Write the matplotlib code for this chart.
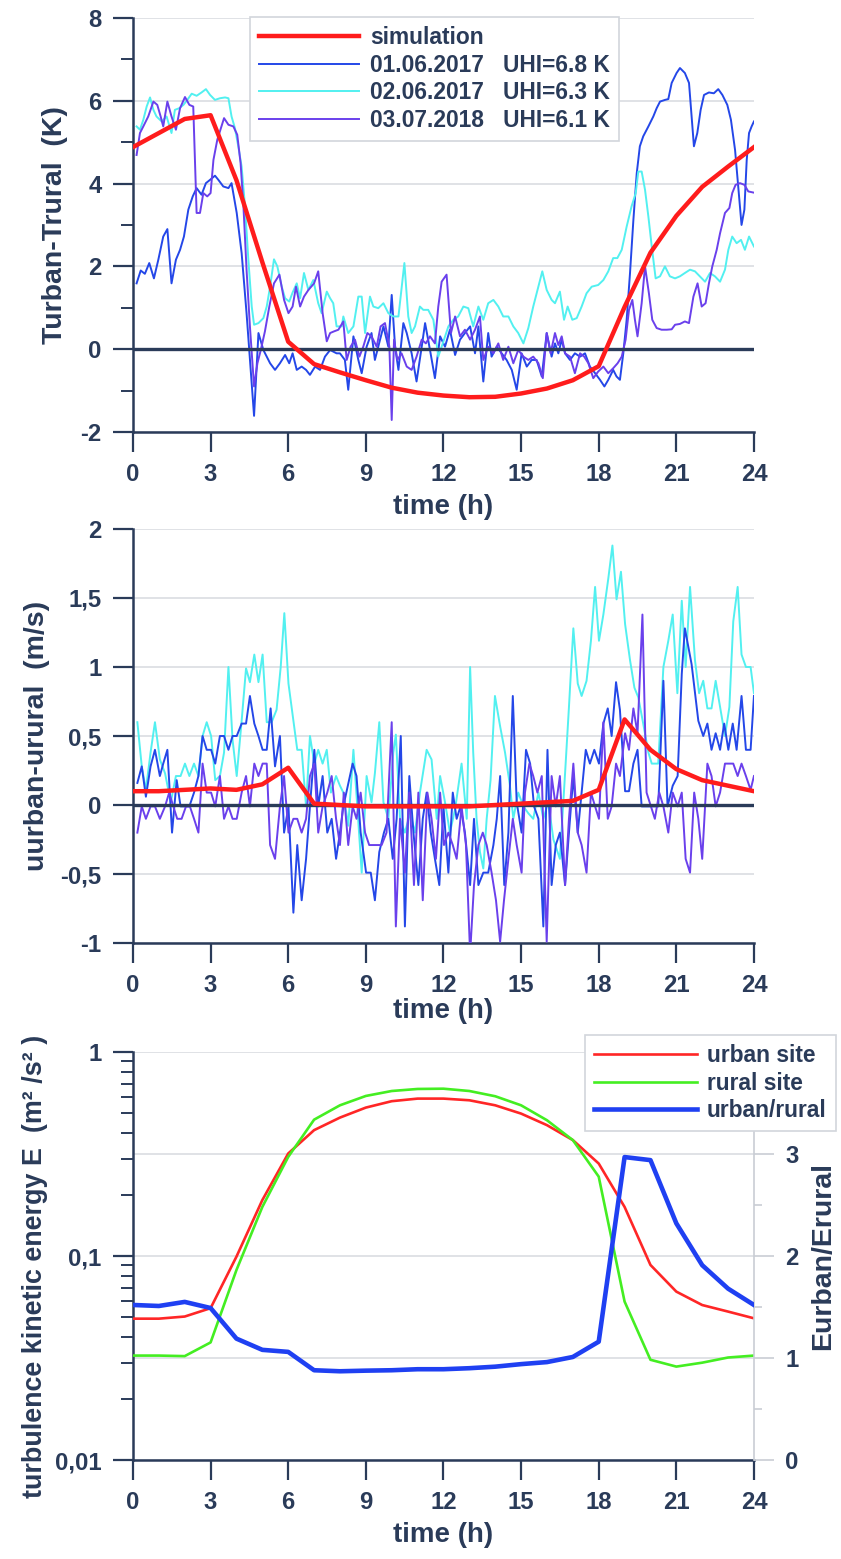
import matplotlib
matplotlib.use("Agg")
import matplotlib.pyplot as plt
from matplotlib.ticker import FuncFormatter, MultipleLocator, NullFormatter, LogLocator
import numpy as np

plt.rcParams['font.family'] = ['Liberation Sans', 'DejaVu Sans']
plt.rcParams['font.weight'] = 'bold'

NAVY = '#2a3b59'
GRIDC = '#dadde2'

# ---- panel 1: urban heat island (K) ----
sim_hours = list(range(25))
T_sim = [4.88, 5.22, 5.56, 5.65, 4.08, 2.10, 0.18, -0.36, -0.56, -0.75, -0.93, -1.05, -1.12,
         -1.16, -1.15, -1.07, -0.95, -0.75, -0.41, 1.02, 2.33, 3.22, 3.92, 4.41, 4.88]

T_0106 = [(0.14, 1.59), (0.30, 1.90), (0.46, 1.82), (0.63, 2.08), (0.81, 1.71), (0.98, 2.16),
          (1.17, 2.72), (1.33, 2.90), (1.49, 1.59), (1.66, 2.16), (1.82, 2.40), (1.97, 2.72),
          (2.14, 3.37), (2.31, 3.69), (2.46, 3.89), (2.65, 3.73), (2.82, 4.01), (2.98, 4.09),
          (3.17, 4.19), (3.30, 4.09), (3.49, 3.93), (3.69, 3.89), (3.81, 4.01), (4.01, 3.29),
          (4.20, 2.32), (4.39, 0.87), (4.55, -0.50), (4.68, -1.61), (4.85, 0.39), (5.04, -0.02),
          (5.30, -0.34), (5.49, -0.50), (5.68, -0.34), (5.88, -0.14), (6.04, -0.34), (6.17, -0.10),
          (6.33, -0.50), (6.52, -0.42), (6.69, -0.50), (6.84, -0.62), (7.04, -0.42), (7.23, -0.50),
          (7.42, -0.18), (7.62, -0.02), (7.87, -0.10),
          (8.00, -0.10), (8.19, -0.26), (8.32, -0.98), (8.52, 0.31), (8.71, -0.26), (8.84, -0.58),
          (9.03, 0.06), (9.22, 0.39), (9.35, -0.26), (9.48, 0.06), (9.68, 0.55), (9.87, 0.06),
          (10.00, 1.31), (10.13, 0.06), (10.26, -0.50), (10.45, 0.63), (10.58, 0.39), (10.77, -0.10),
          (10.96, -0.78), (11.16, 0.06), (11.29, 0.63), (11.48, -0.02), (11.67, -0.70), (11.87, 0.31),
          (12.06, 0.06), (12.25, 0.47), (12.45, -0.14), (12.64, 0.23), (12.83, 0.39), (13.03, 0.55),
          (13.22, -0.10), (13.35, 0.55), (13.54, -0.78), (13.73, 0.39), (13.86, -0.18), (14.06, 0.06),
          (14.25, -0.10), (14.44, -0.26), (14.64, -0.50), (14.83, -0.98), (15.02, -0.10), (15.22, -0.42),
          (15.41, -0.26), (15.60, -0.26), (15.80, -0.66), (15.99, 0.39), (16.18, -0.18),
          (16.31, 0.14), (16.44, -0.10), (16.57, 0.23), (16.70, -0.10), (16.89, -0.26), (17.08, -0.10),
          (17.28, -0.18), (17.47, -0.10), (17.66, -0.42), (17.86, -0.58), (18.05, -0.74), (18.22, -0.90),
          (18.37, -0.74), (18.56, -0.50), (18.69, -0.66), (18.82, -0.74), (18.95, -0.10), (19.08, 0.71),
          (19.21, 1.84), (19.34, 3.12), (19.47, 4.25), (19.59, 4.90), (19.72, 5.14), (19.92, 5.38),
          (20.11, 5.62), (20.24, 5.82), (20.37, 5.98), (20.56, 6.02), (20.69, 6.04), (20.82, 6.43),
          (21.01, 6.67), (21.14, 6.79), (21.33, 6.67), (21.49, 6.43), (21.59, 5.62), (21.68, 4.90),
          (21.81, 5.22), (21.94, 5.78), (22.07, 6.14), (22.26, 6.20), (22.45, 6.18), (22.62, 6.28),
          (22.78, 6.14), (22.97, 5.90), (23.11, 5.54), (23.27, 4.81), (23.39, 3.93), (23.52, 3.00),
          (23.63, 3.37), (23.72, 4.57), (23.81, 5.22), (23.91, 5.38), (24.00, 5.50)]

T_0206 = [(0.14, 5.38), (0.27, 5.30), (0.40, 5.54), (0.53, 5.86), (0.66, 6.08), (0.79, 5.78),
          (0.91, 5.62), (1.11, 5.50), (1.30, 5.62), (1.49, 5.22), (1.62, 5.78), (1.79, 5.82),
          (1.95, 5.90), (2.10, 6.02), (2.27, 6.17), (2.46, 6.12), (2.65, 6.20), (2.82, 6.28),
          (2.98, 6.14), (3.17, 6.02), (3.36, 6.06), (3.56, 6.08), (3.69, 6.06), (3.81, 5.62),
          (3.94, 5.34), (4.07, 4.90), (4.20, 4.41), (4.33, 3.45), (4.46, 2.16), (4.59, 1.03),
          (4.68, 0.59), (4.85, 0.63), (5.04, 0.75), (5.17, 1.03), (5.30, 1.51), (5.45, 2.17),
          (5.58, 2.00), (5.75, 1.51), (5.88, 1.23), (6.04, 1.15), (6.17, 1.37), (6.33, 1.59),
          (6.46, 1.23), (6.61, 1.84), (6.78, 1.43), (6.97, 1.67), (7.16, 1.11), (7.29, 0.87),
          (7.49, 1.39), (7.62, 1.23), (7.74, 1.11), (7.87, 0.55), (8.07, 0.55),
          (8.13, 0.79), (8.32, 0.39), (8.52, 0.55), (8.71, 1.27), (8.84, 1.27), (8.97, 0.39),
          (9.16, 1.27), (9.29, 1.03), (9.48, 0.99), (9.68, 1.11), (9.87, 0.87), (10.06, 0.79),
          (10.26, 0.79), (10.49, 2.08), (10.64, 0.79), (10.77, 0.39), (10.90, 0.55), (11.09, 1.03),
          (11.22, 0.95), (11.41, 0.95), (11.61, 0.71), (11.80, -0.18), (12.00, 0.19), (12.19, 0.55),
          (12.38, 0.71), (12.57, 0.79), (12.77, 1.03), (12.96, 0.99), (13.15, 0.55), (13.35, 1.03),
          (13.54, 0.71), (13.73, 1.11), (13.93, 1.19), (14.12, 1.03), (14.31, 0.79), (14.51, 0.79),
          (14.70, 0.55), (14.89, 0.39), (15.09, 0.14), (15.28, 0.51), (15.47, 1.03), (15.67, 1.51),
          (15.82, 1.88), (15.99, 1.43), (16.18, 1.19),
          (16.31, 1.11), (16.50, 1.39), (16.66, 0.71), (16.80, 1.03), (16.98, 0.71), (17.15, 0.75),
          (17.34, 1.03), (17.53, 1.35), (17.73, 1.51), (17.98, 1.55), (18.18, 1.67), (18.37, 1.88),
          (18.56, 2.20), (18.72, 2.20), (18.89, 2.40), (19.08, 2.96), (19.27, 3.45), (19.43, 3.77),
          (19.53, 4.29), (19.66, 4.29), (19.79, 3.85), (19.92, 3.20), (20.05, 2.48), (20.20, 1.71),
          (20.37, 1.76), (20.56, 2.00), (20.75, 1.76), (20.95, 1.71), (21.14, 1.76), (21.33, 1.84),
          (21.53, 1.92), (21.72, 1.88), (21.91, 1.76), (22.11, 1.63), (22.30, 1.84), (22.49, 1.76),
          (22.69, 1.63), (22.88, 1.92), (23.01, 2.40), (23.16, 2.72), (23.33, 2.56), (23.50, 2.64),
          (23.65, 2.40), (23.81, 2.72), (24.00, 2.48)]

T_0307 = [(0.14, 4.69), (0.27, 5.22), (0.40, 5.38), (0.59, 5.62), (0.79, 5.98), (0.94, 5.90),
          (1.07, 5.62), (1.17, 5.38), (1.33, 5.98), (1.49, 5.62), (1.66, 5.30), (1.82, 5.82),
          (2.01, 6.09), (2.18, 5.90), (2.33, 5.86), (2.46, 3.29), (2.59, 3.29), (2.72, 3.77),
          (2.87, 3.69), (3.00, 3.77), (3.11, 4.57), (3.26, 5.06), (3.52, 5.58), (3.69, 5.42),
          (3.88, 5.38), (4.03, 5.18), (4.16, 4.49), (4.27, 3.45), (4.39, 1.92), (4.52, 0.55),
          (4.68, -0.90), (4.81, -0.34), (4.94, -0.02), (5.10, 0.43), (5.27, 1.03), (5.45, 1.59),
          (5.66, 1.80), (5.84, 1.19), (6.01, 0.87), (6.17, 1.03), (6.30, 1.51), (6.46, 1.03),
          (6.61, 1.27), (6.78, 1.43), (7.00, 1.59), (7.16, 1.88), (7.33, 0.87), (7.49, 0.19),
          (7.62, 0.39), (7.77, 0.43), (7.94, 0.47),
          (8.13, 0.67), (8.26, -0.26), (8.41, 0.06), (8.58, 0.23), (8.75, -0.18), (8.90, 0.06),
          (9.06, 0.39), (9.22, 0.31), (9.42, 0.06), (9.57, 0.55), (9.74, 0.63), (9.91, 0.06),
          (10.00, -1.71), (10.09, 0.23), (10.22, -0.26), (10.38, -0.10), (10.58, -0.42), (10.77, -0.50),
          (10.96, -0.18), (11.16, 0.23), (11.32, 0.14), (11.48, 0.31), (11.67, 0.14), (11.80, 1.03),
          (11.93, 1.63), (12.12, 1.80), (12.29, 0.39), (12.45, 0.79), (12.64, 0.31), (12.83, 0.47),
          (13.03, 0.23), (13.22, 0.47), (13.41, 0.79), (13.54, -0.26), (13.73, 0.06), (13.93, -0.10),
          (14.12, 0.14), (14.31, -0.26), (14.51, 0.06), (14.70, -0.34), (14.89, -0.02), (15.09, -0.18),
          (15.28, -0.26), (15.47, -0.18), (15.67, -0.34), (15.84, -0.70), (15.99, 0.39), (16.14, -0.10),
          (16.31, 0.39), (16.44, 0.10), (16.57, 0.31), (16.70, -0.10), (16.89, -0.18), (17.08, -0.58),
          (17.28, -0.10), (17.44, -0.18), (17.60, -0.34), (17.79, -0.70), (17.98, -0.54), (18.18, -0.42),
          (18.37, -0.58), (18.56, -0.46), (18.73, -0.34), (18.89, -0.18), (19.04, 0.23), (19.17, 0.95),
          (19.30, 1.19), (19.40, 0.71), (19.50, 0.31), (19.66, 1.11), (19.79, 2.00), (19.94, 1.35),
          (20.07, 0.71), (20.24, 0.51), (20.43, 0.47), (20.63, 0.47), (20.82, 0.48), (20.95, 0.59),
          (21.14, 0.61), (21.33, 0.67), (21.49, 0.63), (21.66, 1.27), (21.82, 1.59), (21.98, 1.03),
          (22.13, 1.11), (22.26, 1.59), (22.39, 2.00), (22.56, 2.40), (22.69, 2.80), (22.88, 3.29),
          (23.05, 3.41), (23.16, 3.77), (23.29, 3.97), (23.46, 4.01), (23.63, 3.97), (23.78, 3.81),
          (24.00, 3.78)]

# ---- panel 2: wind speed difference (m/s) ----
u_sim = [0.10, 0.10, 0.11, 0.12, 0.11, 0.15, 0.27, 0.01, 0.00, -0.01, -0.01, -0.01, -0.01,
         -0.01, 0.00, 0.01, 0.02, 0.03, 0.11, 0.62, 0.40, 0.26, 0.18, 0.14, 0.10]

u_0106 = [(0.17, 0.16), (0.34, 0.28), (0.50, 0.06), (0.68, 0.28), (0.85, 0.40), (1.04, 0.21),
          (1.17, 0.30), (1.33, 0.40), (1.51, -0.20), (1.69, 0.18), (1.84, -0.01), (2.01, -0.01),
          (2.18, -0.01), (2.36, 0.09), (2.53, 0.21), (2.69, 0.50), (2.85, 0.40), (3.02, 0.40),
          (3.18, 0.30), (3.36, 0.50), (3.52, 0.50), (3.69, 0.40), (3.85, 0.50), (4.01, 0.50),
          (4.20, 0.59), (4.37, 0.59), (4.52, 0.79), (4.69, 0.59), (4.85, 0.50), (5.01, 0.40),
          (5.17, 0.40), (5.32, 0.70), (5.49, 0.28), (5.68, 0.50), (5.84, -0.20), (6.01, -0.01),
          (6.20, -0.78), (6.35, -0.29), (6.52, -0.69), (6.69, -0.39), (6.84, -0.01), (7.01, 0.40),
          (7.16, -0.01), (7.33, 0.21), (7.51, -0.20), (7.68, -0.10), (7.85, -0.39), (8.00, -0.20),
          (8.13, -0.01), (8.49, 0.30), (8.64, 0.21), (8.80, -0.20), (9.01, -0.49), (9.19, -0.49),
          (9.35, -0.69), (9.52, -0.34), (9.70, -0.20), (9.87, -0.10), (10.04, -0.39), (10.19, -0.10),
          (10.35, 0.50), (10.51, -0.88), (10.68, 0.21), (10.84, -0.20), (11.03, -0.58), (11.20, -0.10),
          (11.35, 0.09), (11.51, -0.20), (11.67, -0.39), (11.84, -0.58), (12.00, -0.01), (12.19, -0.49),
          (12.36, 0.09), (12.51, -0.10), (12.66, -0.01), (12.83, -0.20), (13.03, -0.58), (13.18, -0.10),
          (13.35, -0.58), (13.54, -0.49), (13.73, -0.49), (13.93, -0.29), (14.06, -0.10), (14.19, 0.21),
          (14.35, -0.58), (14.51, -0.20), (14.68, 0.79), (14.83, 0.02), (15.02, -0.20), (15.19, 0.40),
          (15.35, 0.30), (15.50, -0.01), (15.67, -0.10), (15.86, -0.88), (16.02, 0.40), (16.18, -0.58),
          (16.34, -0.29), (16.50, -0.20), (16.70, -0.58), (16.85, -0.20), (17.02, 0.21), (17.19, -0.20),
          (17.34, 0.09), (17.50, 0.40), (17.66, 0.30), (17.83, 0.40), (18.01, 0.30), (18.18, 0.59),
          (18.35, 0.70), (18.50, 0.50), (18.67, 0.89), (18.82, 0.69), (19.02, 0.10), (19.17, 0.10),
          (19.34, 0.30), (19.50, 0.40), (19.66, -0.01), (19.85, -0.01), (20.05, -0.01), (20.30, -0.01),
          (20.50, 0.90), (20.66, -0.01), (20.86, 0.14), (21.05, 0.21), (21.21, 0.95), (21.33, 1.28),
          (21.59, 1.02), (21.85, 0.61), (22.04, 0.50), (22.20, 0.59), (22.36, 0.40), (22.52, 0.52),
          (22.69, 0.40), (22.85, 0.59), (23.01, 0.40), (23.18, 0.59), (23.33, 0.40), (23.52, 0.79),
          (23.69, 0.40), (23.87, 0.40), (24.00, 0.79)]

u_0206 = [(0.17, 0.60), (0.34, 0.28), (0.50, 0.11), (0.68, 0.38), (0.85, 0.60), (1.04, 0.33),
          (1.24, 0.23), (1.46, 0.02), (1.66, 0.21), (1.84, 0.21), (2.01, 0.30), (2.18, 0.21),
          (2.36, 0.30), (2.53, 0.21), (2.69, 0.50), (2.85, 0.60), (3.02, 0.50), (3.18, 0.18),
          (3.36, 0.21), (3.52, 0.38), (3.69, 1.00), (3.85, 0.47), (4.01, 0.21), (4.20, 0.61),
          (4.37, 0.99), (4.52, 0.89), (4.69, 1.09), (4.85, 0.89), (5.01, 1.09), (5.17, 0.60),
          (5.36, 0.60), (5.55, 0.69), (5.71, 1.00), (5.85, 1.39), (6.01, 0.88), (6.20, 0.61),
          (6.35, 0.40), (6.52, 0.40), (6.69, -0.01), (6.84, 0.50), (7.01, 0.30), (7.16, 0.40),
          (7.33, 0.30), (7.49, 0.40), (7.65, 0.09), (7.85, 0.21), (8.00, 0.14),
          (8.13, 0.09), (8.32, -0.15), (8.52, 0.40), (8.67, -0.01), (8.84, -0.49), (9.03, 0.21),
          (9.22, 0.02), (9.35, 0.23), (9.52, 0.60), (9.68, 0.02), (9.87, -0.10), (10.06, 0.38),
          (10.16, 0.51), (10.32, -0.10), (10.51, -0.20), (10.71, -0.06), (10.90, -0.20), (11.09, 0.09),
          (11.35, 0.40), (11.54, 0.33), (11.74, -0.10), (11.87, 0.21), (12.06, 0.02), (12.25, -0.20),
          (12.45, -0.03), (12.70, 0.30), (12.90, -0.10), (13.03, 1.00), (13.15, 0.38), (13.28, -0.10),
          (13.41, -0.34), (13.54, -0.46), (13.67, -0.10), (13.82, 0.18), (13.99, 0.79), (14.19, 0.57),
          (14.38, 0.38), (14.57, 0.14), (14.70, -0.10), (14.89, 0.09), (15.09, -0.01), (15.28, -0.06),
          (15.47, -0.10), (15.67, 0.09), (15.86, -0.10),
          (16.05, 0.02), (16.25, -0.25), (16.50, -0.39), (16.70, 0.23), (16.85, 0.71), (17.02, 1.28),
          (17.19, 0.88), (17.34, 0.79), (17.53, 0.90), (17.70, 1.19), (17.86, 1.58), (18.01, 1.19),
          (18.18, 1.38), (18.37, 1.64), (18.53, 1.88), (18.69, 1.49), (18.86, 1.69), (19.02, 1.31),
          (19.21, 1.05), (19.38, 0.85), (19.53, 0.78), (19.72, 0.59), (19.92, 0.38), (20.05, 0.30),
          (20.30, 0.30), (20.50, 1.00), (20.69, 1.19), (20.86, 1.38), (21.04, 0.81), (21.21, 1.48),
          (21.36, 1.00), (21.53, 1.58), (21.72, 1.05), (21.88, 0.81), (22.04, 0.90), (22.20, 0.70),
          (22.36, 0.70), (22.52, 0.90), (22.69, 0.71), (22.88, 0.50), (23.05, 0.71), (23.20, 1.33),
          (23.37, 1.58), (23.52, 1.09), (23.69, 1.00), (23.87, 1.00), (24.00, 0.81)]

u_0307 = [(0.17, -0.20), (0.34, -0.01), (0.50, -0.10), (0.68, -0.01), (0.85, -0.01), (1.04, -0.10),
          (1.24, -0.01), (1.40, 0.09), (1.56, -0.01), (1.71, -0.10), (1.88, -0.10), (2.05, -0.01),
          (2.20, -0.01), (2.36, -0.10), (2.53, -0.20), (2.69, 0.30), (2.85, 0.09), (3.02, 0.09),
          (3.18, -0.01), (3.36, 0.21), (3.52, -0.10), (3.69, -0.01), (3.85, -0.10), (4.01, -0.10),
          (4.20, 0.09), (4.37, 0.21), (4.52, -0.01), (4.69, 0.30), (4.85, 0.21), (5.01, 0.30),
          (5.17, 0.30), (5.30, -0.29), (5.49, -0.39), (5.68, -0.01), (5.84, 0.21), (6.01, -0.20),
          (6.20, -0.10), (6.35, -0.10), (6.52, -0.20), (6.69, -0.10), (6.84, 0.21), (7.01, 0.30),
          (7.16, -0.20), (7.33, -0.01), (7.51, 0.09), (7.68, 0.21), (7.85, -0.10), (8.00, -0.29),
          (8.15, 0.09), (8.32, -0.29), (8.49, -0.01), (8.64, -0.10), (8.80, 0.09), (8.97, -0.20),
          (9.13, -0.29), (9.29, -0.29), (9.44, -0.29), (9.61, -0.29), (9.80, -0.20), (10.00, 0.60),
          (10.16, -0.88), (10.32, -0.10), (10.51, -0.49), (10.68, 0.09), (10.86, -0.58), (11.03, 0.09),
          (11.20, -0.69), (11.38, 0.09), (11.54, -0.10), (11.71, -0.39), (11.87, 0.09), (12.02, -0.29),
          (12.19, -0.20), (12.36, -0.29), (12.51, -0.39), (12.70, -0.01), (12.87, -0.29), (13.03, -1.08),
          (13.18, -0.58), (13.35, -0.29), (13.52, -0.20), (13.67, -0.29), (13.86, -0.49), (14.03, -0.69),
          (14.19, -0.99), (14.34, -0.69), (14.51, -0.39), (14.68, -0.10), (14.83, -0.29), (15.02, -0.49),
          (15.15, 0.09), (15.32, 0.30), (15.47, 0.21), (15.63, 0.09), (15.80, 0.21), (15.99, -0.99),
          (16.18, 0.21), (16.34, -0.01), (16.50, 0.21), (16.70, -0.58), (16.85, -0.10), (17.02, 0.30),
          (17.19, -0.20), (17.34, -0.29), (17.53, -0.49), (17.70, 0.09), (17.86, -0.01), (18.01, -0.10),
          (18.18, 0.60), (18.35, -0.10), (18.50, -0.01), (18.67, 0.30), (18.82, 0.21), (19.02, 0.52),
          (19.17, 0.40), (19.34, 0.70), (19.50, 0.52), (19.69, 1.38), (19.85, 0.09), (20.02, -0.01),
          (20.17, -0.10), (20.34, 0.09), (20.50, -0.01), (20.69, -0.20), (20.86, 0.09), (21.05, -0.01),
          (21.21, 0.09), (21.36, -0.39), (21.53, -0.49), (21.69, 0.09), (21.85, -0.10), (22.00, -0.39),
          (22.20, 0.30), (22.36, 0.21), (22.52, -0.01), (22.69, 0.09), (22.88, 0.30), (23.05, 0.30),
          (23.20, 0.30), (23.37, 0.21), (23.52, 0.30), (23.69, 0.21), (23.87, 0.11), (24.00, 0.21)]

# ---- panel 3: turbulence kinetic energy ----
E_hours = list(range(25))
E_urban = [0.0493, 0.0493, 0.0505, 0.0555, 0.0993, 0.188, 0.318, 0.414, 0.477, 0.534, 0.574,
           0.591, 0.591, 0.580, 0.548, 0.499, 0.438, 0.370, 0.284, 0.174, 0.0904, 0.0669,
           0.0575, 0.0534, 0.0495]
E_rural = [0.0325, 0.0325, 0.0323, 0.0377, 0.0854, 0.174, 0.306, 0.466, 0.548, 0.609, 0.644,
           0.659, 0.661, 0.644, 0.607, 0.548, 0.463, 0.370, 0.245, 0.0598, 0.0310, 0.0287,
           0.0300, 0.0318, 0.0325]
E_ratio = [1.52, 1.51, 1.55, 1.49, 1.19, 1.08, 1.06, 0.88, 0.87, 0.876, 0.88, 0.89, 0.89,
           0.90, 0.915, 0.94, 0.96, 1.01, 1.16, 2.97, 2.94, 2.32, 1.91, 1.68, 1.52]

obs_labels = ['01.06.2017   UHI=6.8 K', '02.06.2017   UHI=6.3 K', '03.07.2018   UHI=6.1 K']
obs_colors = ['#2447e8', '#52f0f0', '#6a40ec']
SIM_RED = '#ff1c1c'

TICK_FS = 17.2
LAB_FS = 20.5
XLAB_FS = 20
LEG_FS = 16.4

comma = FuncFormatter(lambda v, p: f"{v:g}".replace('.', ','))


def style_axes(ax):
    for s in ['top', 'right']:
        ax.spines[s].set_visible(False)
    for s in ['left', 'bottom']:
        ax.spines[s].set_color(NAVY)
        ax.spines[s].set_linewidth(1.8)
    ax.tick_params(which='major', length=14.5, width=1.6, color=NAVY, labelcolor=NAVY,
                   labelsize=TICK_FS, pad=8.0)
    ax.tick_params(which='minor', length=8.5, width=1.4, color=NAVY)
    ax.set_xlim(0, 24)
    ax.xaxis.set_major_locator(MultipleLocator(3))
    ax.tick_params(axis='x', which='minor', bottom=False)
    for lab in ax.get_xticklabels() + ax.get_yticklabels():
        lab.set_fontweight('bold')


def unzip(pairs):
    h, v = zip(*pairs)
    return list(h), list(v)


fig = plt.figure(figsize=(8.41, 15.59), dpi=100)

# ---------- top panel ----------
ax1 = fig.add_axes([0.1581, 0.7229, 0.7384, 0.2656])
style_axes(ax1)
ax1.set_ylim(-2, 8)
ax1.yaxis.set_major_locator(MultipleLocator(2))
ax1.yaxis.set_minor_locator(MultipleLocator(1))
ax1.yaxis.set_major_formatter(comma)
ax1.yaxis.grid(True, which='major', color=GRIDC, lw=1.2)
ax1.set_axisbelow(True)

sim_line, = ax1.plot(sim_hours, T_sim, color=SIM_RED, lw=3.2, zorder=5, label='simulation')
handles = [sim_line]
for data, c, lab in zip([T_0106, T_0206, T_0307], obs_colors, obs_labels):
    h, v = unzip(data)
    ln, = ax1.plot(h, v, color=c, lw=1.4, zorder=3, label=lab)
    handles.append(ln)
ax1.axhline(0, color=NAVY, lw=2.4, zorder=4)
leg1 = ax1.legend(handles=handles, loc='upper left', bbox_to_anchor=(0.188, 1.003),
                  fontsize=LEG_FS, handlelength=4.4, handletextpad=0.45, labelspacing=0.2,
                  borderpad=0.42, borderaxespad=0, fancybox=False, framealpha=1,
                  edgecolor='#d2d6dc', labelcolor=NAVY)
leg1.get_frame().set_linewidth(1.2)
ax1.text(-0.126, 0.5, 'Turban-Trural  (K)', transform=ax1.transAxes, rotation=90,
         ha='center', va='center', fontsize=LAB_FS, color=NAVY, fontweight='bold')
ax1.text(0.5, -0.181, 'time (h)', transform=ax1.transAxes, ha='center', va='center',
         fontsize=XLAB_FS, color=NAVY, fontweight='bold')

# ---------- middle panel ----------
ax2 = fig.add_axes([0.1581, 0.3951, 0.7384, 0.2656])
style_axes(ax2)
ax2.set_ylim(-1, 2)
ax2.yaxis.set_major_locator(MultipleLocator(0.5))
ax2.yaxis.set_major_formatter(comma)
ax2.yaxis.grid(True, which='major', color=GRIDC, lw=1.2)
ax2.set_axisbelow(True)
for data, c in zip([u_0206, u_0106, u_0307], [obs_colors[1], obs_colors[0], obs_colors[2]]):
    h, v = unzip(data)
    ax2.plot(h, v, color=c, lw=1.4, zorder=3)
ax2.axhline(0, color=NAVY, lw=2.4, zorder=4)
ax2.plot(sim_hours, u_sim, color=SIM_RED, lw=3.2, zorder=5)
ax2.text(-0.155, 0.5, 'uurban-urural  (m/s)', transform=ax2.transAxes, rotation=90,
         ha='center', va='center', fontsize=LAB_FS, color=NAVY, fontweight='bold')
ax2.text(0.5, -0.165, 'time (h)', transform=ax2.transAxes, ha='center', va='center',
         fontsize=XLAB_FS, color=NAVY, fontweight='bold')

# ---------- bottom panel ----------
ax3 = fig.add_axes([0.1581, 0.0635, 0.7384, 0.2617])
ax3.set_yscale('log')
style_axes(ax3)
ax3.set_ylim(0.01, 1)
ax3.yaxis.set_major_locator(LogLocator(base=10, numticks=5))
ax3.yaxis.set_minor_locator(LogLocator(base=10, subs=np.arange(2, 10), numticks=20))
ax3.yaxis.set_major_formatter(comma)
ax3.yaxis.set_minor_formatter(NullFormatter())
ax3.yaxis.grid(True, which='major', color=GRIDC, lw=1.2)
for yv in (10 ** -0.5, 10 ** -1.5):
    ax3.axhline(yv, color=GRIDC, lw=1.2, zorder=0.5)
ax3.set_axisbelow(True)
l_urb, = ax3.plot(E_hours, E_urban, color='#ff2626', lw=1.9, label='urban site', zorder=3)
l_rur, = ax3.plot(E_hours, E_rural, color='#44ee22', lw=1.9, label='rural site', zorder=3)

ax3r = ax3.twinx()
ax3r.set_ylim(0, 4)
ax3r.set_xlim(0, 24)
for s in ['top', 'left', 'bottom']:
    ax3r.spines[s].set_visible(False)
ax3r.spines['right'].set_color('#c9cdd4')
ax3r.spines['right'].set_linewidth(1.2)
ax3r.set_yticks([0, 1, 2, 3])
ax3r.yaxis.set_minor_locator(MultipleLocator(0.5))
ax3r.tick_params(axis='y', which='major', length=14.5, width=1.2, color='#c9cdd4',
                 labelcolor=NAVY, labelsize=TICK_FS, pad=8.0)
ax3r.tick_params(axis='y', which='minor', length=6, width=1.2, color='#c9cdd4')
for lab in ax3r.get_yticklabels():
    lab.set_fontweight('bold')
l_rat, = ax3r.plot(E_hours, E_ratio, color='#1f40f2', lw=3.3, label='urban/rural', zorder=4)

leg3 = ax3r.legend(handles=[l_urb, l_rur, l_rat], loc='upper left', bbox_to_anchor=(0.728, 1.042),
                   fontsize=LEG_FS, handlelength=4.5, handletextpad=0.45, labelspacing=0.2,
                   borderpad=0.4, borderaxespad=0, fancybox=False, framealpha=1,
                   edgecolor='#d2d6dc', labelcolor=NAVY)
leg3.get_frame().set_linewidth(1.2)
leg3.set_zorder(10)

ax3.text(-0.158, 0.475, 'turbulence kinetic energy E  (m² /s² )', transform=ax3.transAxes,
         rotation=90, ha='center', va='center', fontsize=19.4, color=NAVY, fontweight='bold')
ax3.text(1.111, 0.5, 'Eurban/Erural', transform=ax3.transAxes, rotation=90,
         ha='center', va='center', fontsize=LAB_FS, color=NAVY, fontweight='bold')
ax3.text(0.5, -0.184, 'time (h)', transform=ax3.transAxes, ha='center', va='center',
         fontsize=XLAB_FS, color=NAVY, fontweight='bold')

fig.savefig('out.png', dpi=100)
